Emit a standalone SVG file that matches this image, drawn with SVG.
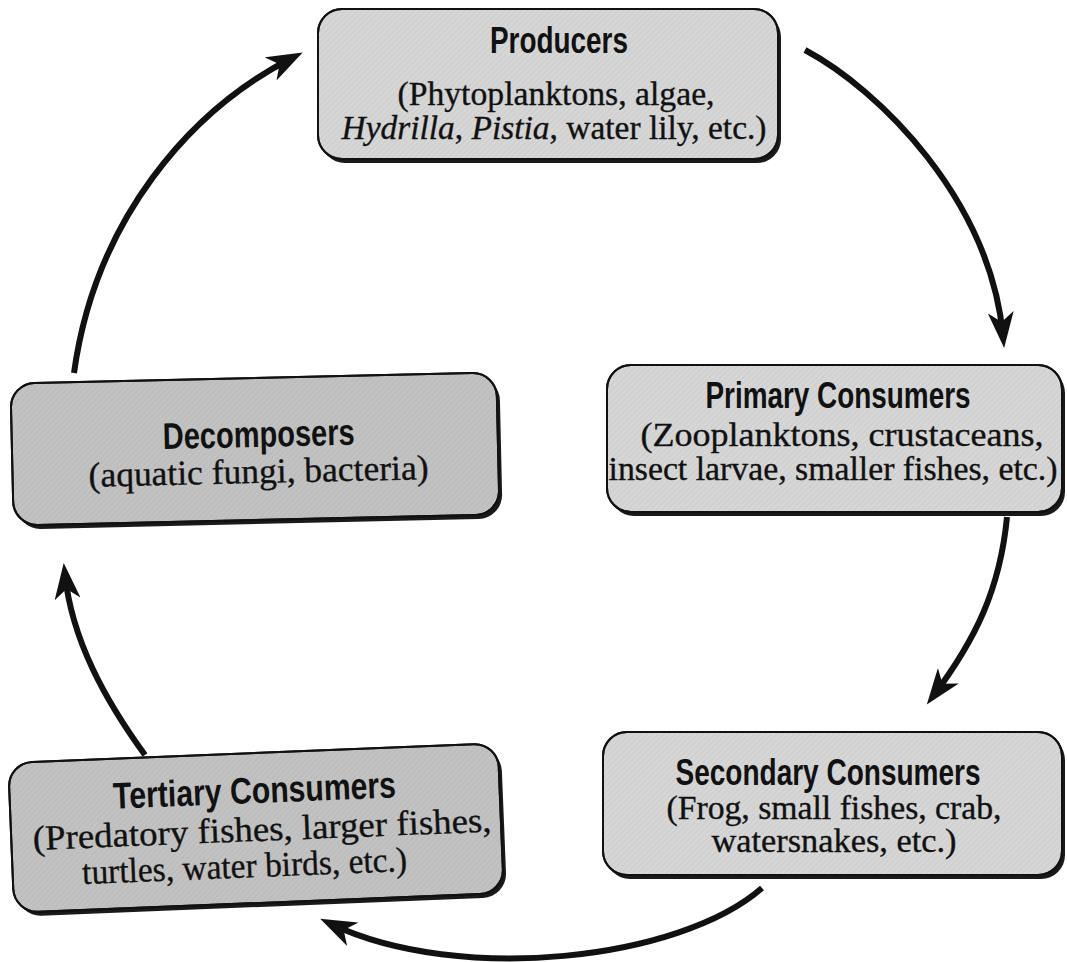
<svg xmlns="http://www.w3.org/2000/svg" width="1067" height="962" viewBox="0 0 1067 962">
<style>
.shadow{fill:#1a1a1a}
.box{stroke:#111;stroke-width:2}
.light{fill:#d6d6d6}
.dark{fill:#c2c2c2}
.tex{fill:url(#tex);stroke:#111;stroke-width:2}
.title{font-family:"Liberation Sans Narrow","Liberation Sans",Arial,sans-serif;font-weight:bold;font-size:37px;fill:#111;text-anchor:middle}
.body{font-family:"Liberation Serif","Times New Roman",serif;font-size:34px;fill:#111;stroke:#111;stroke-width:0.35;text-anchor:middle}
.s33{font-size:33px}
.s35{font-size:35px}
.conn{fill:none;stroke:#111;stroke-width:6;stroke-linecap:butt}
</style>
<defs>
<pattern id="tex" width="4" height="4" patternUnits="userSpaceOnUse" patternTransform="rotate(45)">
<line x1="0" y1="0" x2="0" y2="4" stroke="#000" stroke-opacity="0.07" stroke-width="1.2"/>
</pattern>
<marker id="arrow" viewBox="0 0 36 26" refX="24" refY="13" markerWidth="36" markerHeight="26" markerUnits="userSpaceOnUse" orient="auto">
<path d="M0,0 L36,13 L0,26 L10,13 Z" fill="#111"/>
</marker>
</defs>
<rect width="1067" height="962" fill="#fff"/>

<g id="connectors">
<path class="conn" d="M805,50 C880,90 990,200 1003,336" marker-end="url(#arrow)"/>
<path class="conn" d="M1007,517 C1000,590 975,640 934,695" marker-end="url(#arrow)"/>
<path class="conn" d="M762,888 C680,960 460,985 331,924" marker-end="url(#arrow)"/>
<path class="conn" d="M145,755 C105,700 72,640 65,575" marker-end="url(#arrow)"/>
<path class="conn" d="M74,373 C95,220 190,110 292,58" marker-end="url(#arrow)"/>
</g>

<g id="producers">
<rect class="shadow" x="321" y="13" width="460" height="150" rx="24"/>
<rect class="box light" x="318" y="9" width="460" height="150" rx="24"/>
<rect class="tex" x="318" y="9" width="460" height="150" rx="24"/>
<text class="title" x="559" y="53" textLength="138" lengthAdjust="spacingAndGlyphs">Producers</text>
<text class="body" x="556" y="105" textLength="317" lengthAdjust="spacingAndGlyphs">(Phytoplanktons, algae,</text>
<text class="body" x="554" y="139" textLength="425" lengthAdjust="spacingAndGlyphs"><tspan font-style="italic">Hydrilla</tspan>, <tspan font-style="italic">Pistia</tspan>, water lily, etc.)</text>
</g>

<g id="primary-consumers">
<rect class="shadow" x="610" y="369" width="455" height="147" rx="24"/>
<rect class="box light" x="607" y="365" width="455" height="147" rx="24"/>
<rect class="tex" x="607" y="365" width="455" height="147" rx="24"/>
<text class="title" x="838" y="408" textLength="265" lengthAdjust="spacingAndGlyphs">Primary Consumers</text>
<text class="body" x="842" y="446" textLength="403" lengthAdjust="spacingAndGlyphs">(Zooplanktons, crustaceans,</text>
<text class="body" x="833" y="480" textLength="449" lengthAdjust="spacingAndGlyphs">insect larvae, smaller fishes, etc.)</text>
</g>

<g id="decomposers" transform="rotate(-1.3 255 449)">
<rect class="shadow" x="15" y="382" width="486" height="142" rx="24"/>
<rect class="box dark" x="12" y="378" width="486" height="142" rx="24"/>
<rect class="tex" x="12" y="378" width="486" height="142" rx="24"/>
<text class="title" x="259" y="447" textLength="192" lengthAdjust="spacingAndGlyphs">Decomposers</text>
<text class="body s35" x="258" y="483" textLength="340" lengthAdjust="spacingAndGlyphs">(aquatic fungi, bacteria)</text>
</g>

<g id="secondary-consumers">
<rect class="shadow" x="606" y="736" width="459" height="143" rx="24"/>
<rect class="box light" x="603" y="732" width="459" height="143" rx="24"/>
<rect class="tex" x="603" y="732" width="459" height="143" rx="24"/>
<text class="title" x="828" y="785" font-size="36" textLength="305" lengthAdjust="spacingAndGlyphs">Secondary Consumers</text>
<text class="body s33" x="834" y="819" textLength="335" lengthAdjust="spacingAndGlyphs">(Frog, small fishes, crab,</text>
<text class="body s33" x="834" y="852" textLength="245" lengthAdjust="spacingAndGlyphs">watersnakes, etc.)</text>
</g>

<g id="tertiary-consumers" transform="rotate(-2.3 256 828)">
<rect class="shadow" x="14" y="757" width="490" height="150" rx="24"/>
<rect class="box dark" x="11" y="753" width="490" height="150" rx="24"/>
<rect class="tex" x="11" y="753" width="490" height="150" rx="24"/>
<text class="title" x="256" y="803" textLength="283" lengthAdjust="spacingAndGlyphs">Tertiary Consumers</text>
<text class="body s35" x="262" y="841" textLength="459" lengthAdjust="spacingAndGlyphs">(Predatory fishes, larger fishes,</text>
<text class="body s35" x="243" y="877" textLength="325" lengthAdjust="spacingAndGlyphs">turtles, water birds, etc.)</text>
</g>
</svg>
